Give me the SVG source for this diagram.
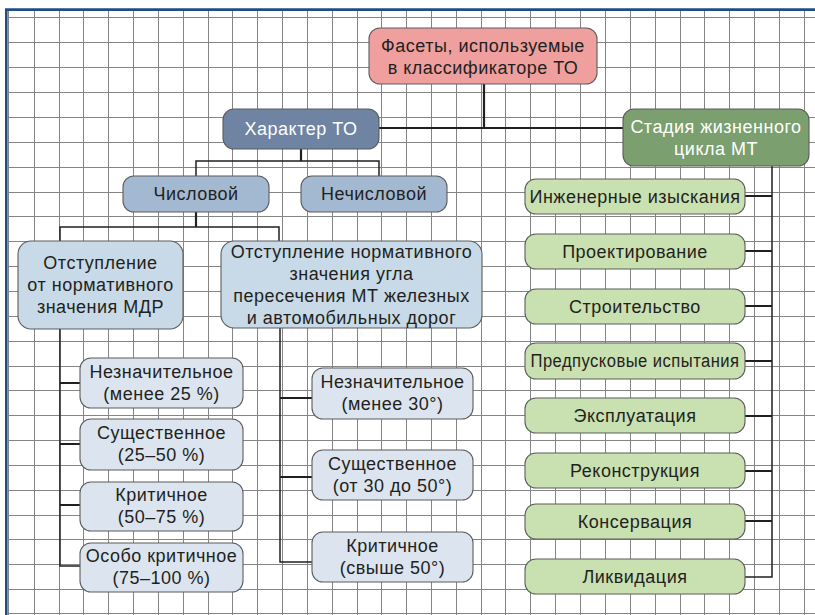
<svg xmlns="http://www.w3.org/2000/svg" width="815" height="615" viewBox="0 0 815 615">
<style>
.grid{stroke:#858585;stroke-width:1;fill:none}
.box{stroke:#5c5c5c;stroke-width:1.1}
.t{font-family:"Liberation Sans",Arial,sans-serif;font-size:18px;letter-spacing:0.5px;fill:#231f20;text-anchor:middle}
.w{fill:#ffffff}
.c{stroke:#231f20;stroke-width:1.5;fill:none}
.s{stroke:#231f20;stroke-width:2.2;fill:none}
.pink{fill:#ee9f9e}
.dblue{fill:#6e84a2}
.dgreen{fill:#7b9f6e}
.mblue{fill:#a3b9d1}
.lblue{fill:#c8dae7}
.xblue{fill:#dce5ef}
.lgreen{fill:#c9e0b1}
</style>
<rect x="0" y="0" width="815" height="615" fill="#ffffff"/>
<path class="grid" d="M8.5 11V615M34.5 11V615M59.5 11V615M83.5 11V615M108.5 11V615M133.5 11V615M158.5 11V615M183.5 11V615M208.5 11V615M232.5 11V615M257.5 11V615M282.5 11V615M307.5 11V615M332.5 11V615M357.5 11V615M381.5 11V615M406.5 11V615M431.5 11V615M456.5 11V615M481.5 11V615M505.5 11V615M530.5 11V615M555.5 11V615M580.5 11V615M605.5 11V615M630.5 11V615M655.5 11V615M680.5 11V615M704.5 11V615M729.5 11V615M754.5 11V615M779.5 11V615M804.5 11V615
M8 17.5H815M8 42.5H815M8 67.5H815M8 92.5H815M8 117.5H815M8 142.5H815M8 167.5H815M8 192.5H815M8 216.5H815M8 241.5H815M8 266.5H815M8 291.5H815M8 316.5H815M8 341.5H815M8 366.5H815M8 390.5H815M8 415.5H815M8 440.5H815M8 465.5H815M8 490.5H815M8 515.5H815M8 539.5H815M8 564.5H815M8 589.5H815M8 613.5H815"/>
<path d="M6.3 8.5V615M5 9.6H815" stroke="#1f4e86" stroke-width="2.6" fill="none"/>

<g id="connectors">
<path class="s" d="M484 84V128M379 128H623"/>
<path class="s" d="M301 149V161"/>
<path class="c" d="M196 176V161H379V176"/>
<path class="s" d="M196 212V227"/>
<path class="c" d="M60 241V227H279V241"/>
<path class="c" d="M60 329V566H80"/>
<path class="s" d="M60 383H80M60 444H80M60 505H80"/>
<path class="c" d="M280 328V562H312"/>
<path class="s" d="M280 398H312M280 477H312"/>
<path class="c" d="M772 166V577H745"/>
<path class="s" d="M745 196H772M745 251H772M745 306H772M745 361H772M745 416H772M745 471H772M745 521H772"/>
</g>

<g id="root">
<rect class="box pink" x="369" y="28" width="228" height="56" rx="11"/>
<text class="t" x="483" y="51.5">Фасеты, используемые</text>
<text class="t" x="483" y="73.5">в классификаторе ТО</text>
</g>
<g id="harakter">
<rect class="box dblue" x="223" y="109" width="156" height="40" rx="11"/>
<text class="t w" x="301" y="135">Характер ТО</text>
</g>
<g id="stadiya">
<rect class="box dgreen" x="623" y="109" width="186" height="57" rx="11"/>
<text class="t w" x="716" y="133">Стадия жизненного</text>
<text class="t w" x="716" y="155">цикла МТ</text>
</g>
<g id="chislovoy">
<rect class="box mblue" x="123" y="176" width="146" height="36" rx="11"/>
<text class="t" x="196" y="200">Числовой</text>
</g>
<g id="nechislovoy">
<rect class="box mblue" x="301" y="176" width="146" height="36" rx="11"/>
<text class="t" x="374" y="200">Нечисловой</text>
</g>
<g id="mdr">
<rect class="box lblue" x="18" y="241" width="165" height="88" rx="13"/>
<text class="t" x="100.5" y="269">Отступление</text>
<text class="t" x="100.5" y="291">от нормативного</text>
<text class="t" x="100.5" y="313">значения МДР</text>
</g>
<g id="ugol">
<rect class="box lblue" x="221" y="241" width="261" height="87" rx="13"/>
<text class="t" x="351.5" y="257.5">Отступление нормативного</text>
<text class="t" x="351.5" y="279.5">значения угла</text>
<text class="t" x="351.5" y="301.5">пересечения МТ железных</text>
<text class="t" x="351.5" y="323.5">и автомобильных дорог</text>
</g>
<g id="l1">
<rect class="box xblue" x="80" y="358" width="163" height="50" rx="11"/>
<text class="t" x="161.5" y="377.5">Незначительное</text>
<text class="t" x="161.5" y="399.5">(менее 25 %)</text>
</g>
<g id="l2">
<rect class="box xblue" x="80" y="419" width="163" height="51" rx="11"/>
<text class="t" x="161.5" y="439">Существенное</text>
<text class="t" x="161.5" y="461">(25–50 %)</text>
</g>
<g id="l3">
<rect class="box xblue" x="80" y="482" width="163" height="49" rx="11"/>
<text class="t" x="161.5" y="501">Критичное</text>
<text class="t" x="161.5" y="523">(50–75 %)</text>
</g>
<g id="l4">
<rect class="box xblue" x="80" y="543" width="163" height="49" rx="11"/>
<text class="t" x="161.5" y="562">Особо критичное</text>
<text class="t" x="161.5" y="584">(75–100 %)</text>
</g>
<g id="r1">
<rect class="box xblue" x="312" y="368" width="161" height="51" rx="11"/>
<text class="t" x="392.5" y="388">Незначительное</text>
<text class="t" x="392.5" y="410">(менее 30°)</text>
</g>
<g id="r2">
<rect class="box xblue" x="312" y="450" width="161" height="50" rx="11"/>
<text class="t" x="392.5" y="469.5">Существенное</text>
<text class="t" x="392.5" y="491.5">(от 30 до 50°)</text>
</g>
<g id="r3">
<rect class="box xblue" x="312" y="532" width="161" height="50" rx="11"/>
<text class="t" x="392.5" y="551.5">Критичное</text>
<text class="t" x="392.5" y="573.5">(свыше 50°)</text>
</g>
<g id="g1"><rect class="box lgreen" x="525" y="179" width="220" height="35" rx="11"/><text class="t" x="635" y="202.5">Инженерные изыскания</text></g>
<g id="g2"><rect class="box lgreen" x="525" y="234" width="220" height="35" rx="11"/><text class="t" x="635" y="257.5">Проектирование</text></g>
<g id="g3"><rect class="box lgreen" x="525" y="289" width="220" height="35" rx="11"/><text class="t" x="635" y="312.5">Строительство</text></g>
<g id="g4"><rect class="box lgreen" x="525" y="343" width="220" height="36" rx="11"/><text class="t" x="635" y="367" letter-spacing="0" textLength="209" lengthAdjust="spacingAndGlyphs">Предпусковые испытания</text></g>
<g id="g5"><rect class="box lgreen" x="525" y="398" width="220" height="35" rx="11"/><text class="t" x="635" y="421.5">Эксплуатация</text></g>
<g id="g6"><rect class="box lgreen" x="525" y="453" width="220" height="35" rx="11"/><text class="t" x="635" y="476.5">Реконструкция</text></g>
<g id="g7"><rect class="box lgreen" x="525" y="504" width="220" height="35" rx="11"/><text class="t" x="635" y="527.5">Консервация</text></g>
<g id="g8"><rect class="box lgreen" x="525" y="559" width="220" height="35" rx="11"/><text class="t" x="635" y="582.5">Ликвидация</text></g>
</svg>
